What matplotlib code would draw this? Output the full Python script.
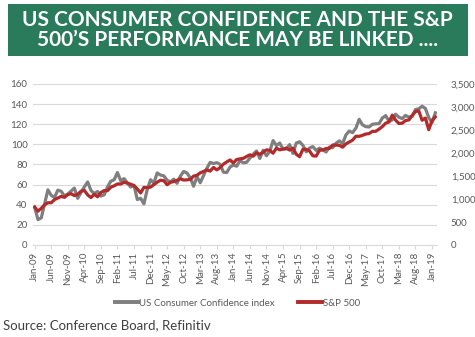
import matplotlib.pyplot as plt
from matplotlib.patches import Rectangle

plt.rcParams['font.family'] = ['Lato', 'DejaVu Sans']

# monthly values, Jan-09 .. Feb-19
confidence = [37.4, 25.3, 26.9, 40.8, 54.8, 49.3, 47.4, 54.5, 53.4, 48.7, 50.6, 53.6,
              56.5, 46.4, 52.3, 57.7, 62.7, 54.3, 51.0, 53.2, 48.6, 49.9, 57.8, 63.4,
              64.8, 72.0, 63.8, 66.0, 61.7, 57.6, 59.2, 45.2, 46.4, 40.9, 55.2, 64.8,
              61.5, 71.6, 69.5, 68.7, 64.4, 62.7, 65.4, 61.3, 68.4, 73.1, 71.5, 66.7,
              58.4, 68.0, 61.9, 69.0, 76.2, 82.1, 81.0, 81.8, 80.2, 72.4, 72.0, 77.5,
              79.4, 78.3, 83.9, 81.7, 82.2, 86.4, 90.3, 93.4, 86.0, 94.1, 88.7, 93.1,
              103.8, 98.8, 101.4, 95.2, 95.4, 99.8, 91.0, 101.3, 102.6, 99.1, 92.6, 96.3,
              97.8, 94.0, 96.2, 94.7, 92.4, 97.4, 96.7, 101.1, 103.5, 100.8, 109.4, 113.3,
              111.6, 116.1, 124.9, 119.4, 117.6, 117.3, 120.0, 120.4, 120.6, 126.2, 128.6, 123.1,
              124.3, 130.0, 127.0, 125.6, 128.8, 127.1, 127.9, 134.7, 135.3, 137.9, 135.7, 126.6,
              121.7, 131.4]
sp500 = [826, 735, 798, 873, 919, 919, 987, 1021, 1057, 1036, 1096, 1115,
         1074, 1104, 1169, 1187, 1089, 1031, 1102, 1049, 1141, 1183, 1181, 1258,
         1286, 1327, 1326, 1364, 1345, 1321, 1292, 1219, 1131, 1253, 1247, 1258,
         1312, 1366, 1408, 1398, 1310, 1362, 1379, 1406, 1441, 1412, 1416, 1426,
         1498, 1515, 1569, 1598, 1631, 1606, 1686, 1633, 1682, 1757, 1806, 1848,
         1783, 1859, 1872, 1884, 1924, 1960, 1931, 2003, 1972, 2018, 2068, 2059,
         1995, 2105, 2068, 2086, 2107, 2063, 2104, 1972, 1920, 2079, 2080, 2044,
         1940, 1932, 2060, 2065, 2097, 2099, 2174, 2171, 2168, 2126, 2199, 2239,
         2279, 2364, 2363, 2384, 2412, 2423, 2470, 2472, 2519, 2575, 2648, 2674,
         2824, 2714, 2641, 2648, 2705, 2718, 2816, 2902, 2914, 2712, 2760, 2507,
         2704, 2784]

month_names = ['Jan', 'Feb', 'Mar', 'Apr', 'May', 'Jun', 'Jul', 'Aug', 'Sep', 'Oct', 'Nov', 'Dec']
tick_pos = list(range(0, 121, 5))
tick_labels = [f'{month_names[i % 12]}-{9 + i // 12:02d}' for i in tick_pos]

grey = '#7f7f7f'
red = '#b22a2a'
text_col = '#595959'

fig = plt.figure(figsize=(4.75, 3.37), dpi=100)

# title banner
fig.patches.append(Rectangle((8 / 475, 1 - 56 / 337), 460 / 475, 52 / 337,
                             transform=fig.transFigure, facecolor='#2a7a5c',
                             edgecolor='none', zorder=0))
fig.text(0.5, 1 - 30 / 337, 'US CONSUMER CONFIDENCE AND THE S&P\n500\u2019S PERFORMANCE MAY BE LINKED ....',
         ha='center', va='center', color='white', fontsize=15, fontweight='bold',
         linespacing=1.0)

ax = fig.add_axes([33 / 475, 92 / 337, 404 / 475, 161 / 337])
x = range(len(confidence))
ax.plot(x, confidence, color=grey, lw=2.3, label='US Consumer Confidence index', zorder=2)
ax.set_ylim(0, 160)
ax.set_yticks(range(0, 161, 20))
ax.set_xlim(-0.5, len(confidence) - 0.5)
ax.set_xticks(tick_pos)
ax.set_xticklabels(tick_labels, rotation=90)
ax.grid(axis='y', color='#d9d9d9', lw=0.8)
ax.set_axisbelow(True)
for s in ['top', 'right', 'left']:
    ax.spines[s].set_visible(False)
ax.spines['bottom'].set_color('#d9d9d9')
ax.tick_params(axis='both', colors=text_col, labelsize=7, length=0, pad=4)
ax.tick_params(axis='x', length=3, color='#d9d9d9', pad=2)

ax2 = ax.twinx()
ax2.plot(x, sp500, color=red, lw=2.3, label='S&P 500', zorder=3)
ax2.set_ylim(0, 3500)
ax2.set_yticks(range(0, 3501, 500))
ax2.set_yticklabels([f'{v:,}' for v in range(0, 3501, 500)])
for s in ax2.spines.values():
    s.set_visible(False)
ax2.tick_params(axis='y', colors=text_col, labelsize=7, length=0, pad=10)

h1, l1 = ax.get_legend_handles_labels()
h2, l2 = ax2.get_legend_handles_labels()
leg = fig.legend(h1 + h2, l1 + l2, loc='center', bbox_to_anchor=(0.5, 1 - 303 / 337),
                 ncol=2, frameon=False, fontsize=7, labelcolor=text_col,
                 handlelength=2.4, handletextpad=0.15, columnspacing=2.4)
for line in leg.get_lines():
    line.set_linewidth(2.8)

fig.text(3 / 475, 1 - 325 / 337, 'Source: Conference Board, Refinitiv',
         ha='left', va='center', fontsize=9.5, color='#404040')

fig.savefig('out.png', dpi=100)
